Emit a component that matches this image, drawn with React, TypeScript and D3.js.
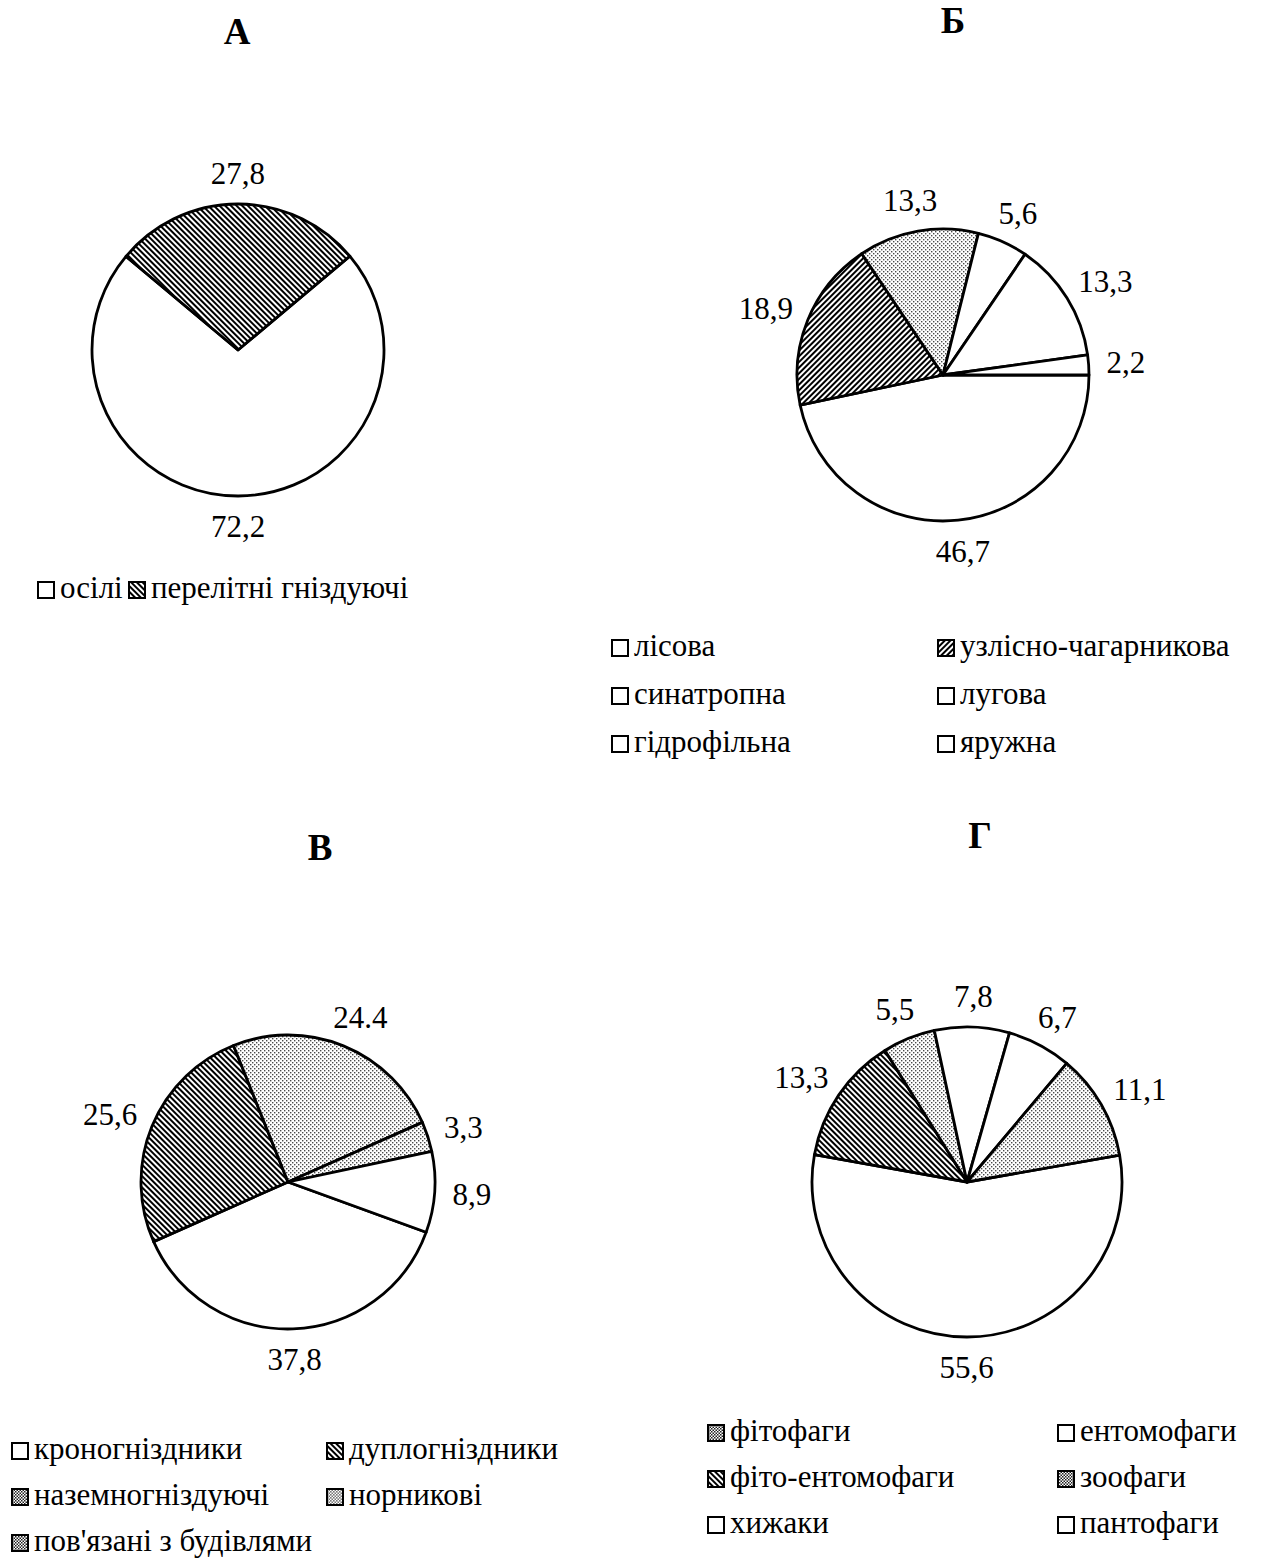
import { useRef, useEffect } from "react";
import * as d3 from "d3";

// А — за характером перебування
const aCategories = ["осілі", "перелітні гніздуючі"];
const aValues = [72.2, 27.8];
const aLabels = ["72,2", "27,8"];

// Б — за біотопною приуроченістю
const bCategories = ["лісова", "узлісно-чагарникова", "синатропна", "лугова", "гідрофільна", "яружна"];
const bValues = [46.7, 18.9, 13.3, 5.6, 13.3, 2.2];
const bLabels = ["46,7", "18,9", "13,3", "5,6", "13,3", "2,2"];

// В — за місцем гніздування
const vCategories = ["кроногніздники", "дуплогніздники", "наземногніздуючі", "норникові", "пов'язані з будівлями"];
const vValues = [37.8, 25.6, 24.4, 3.3, 8.9];
const vLabels = ["37,8", "25,6", "24.4", "3,3", "8,9"];

// Г — за типом живлення (порядок секторів)
const gCategories = ["ентомофаги", "фіто-ентомофаги", "зоофаги", "хижаки", "пантофаги", "фітофаги"];
const gValues = [55.6, 13.3, 5.5, 7.8, 6.7, 11.1];
const gLabels = ["55,6", "13,3", "5,5", "7,8", "6,7", "11,1"];
const gLegendOrder = ["фітофаги", "ентомофаги", "фіто-ентомофаги", "зоофаги", "хижаки", "пантофаги"];

const FONT = "'Liberation Serif', 'Times New Roman', serif";

interface PieSpec {
  title: string;
  tx: number;
  ty: number;
  cx: number;
  cy: number;
  r: number;
  start: number; // degrees, clockwise from 12 o'clock
  categories: string[];
  values: number[];
  labels: string[];
  fills: string[];
  legend: string[];
  legendFills: string[];
  legendCols: number[];
  legendY: number;
  legendDy: number;
}

const charts: PieSpec[] = [
  {
    title: "А", tx: 237, ty: 44, cx: 238, cy: 350, r: 146, start: 50,
    categories: aCategories, values: aValues, labels: aLabels,
    fills: ["#fff", "url(#back)"],
    legend: aCategories, legendFills: ["#fff", "url(#back)"],
    legendCols: [38, 129], legendY: 598, legendDy: 0,
  },
  {
    title: "Б", tx: 953, ty: 33, cx: 943, cy: 375, r: 146, start: 90,
    categories: bCategories, values: bValues, labels: bLabels,
    fills: ["#fff", "url(#fwd)", "url(#dots)", "#fff", "#fff", "#fff"],
    legend: bCategories, legendFills: ["#fff", "url(#fwd)", "#fff", "#fff", "#fff", "#fff"],
    legendCols: [612, 938], legendY: 656, legendDy: 48,
  },
  {
    title: "В", tx: 320, ty: 860, cx: 288, cy: 1182, r: 147, start: 110,
    categories: vCategories, values: vValues, labels: vLabels,
    fills: ["#fff", "url(#back)", "url(#dots)", "url(#dots)", "#fff"],
    legend: vCategories, legendFills: ["#fff", "url(#back)", "url(#check)", "url(#gray)", "url(#check)"],
    legendCols: [12, 327], legendY: 1459, legendDy: 46,
  },
  {
    title: "Г", tx: 980, ty: 848, cx: 967, cy: 1182, r: 155, start: 80,
    categories: gCategories, values: gValues, labels: gLabels,
    fills: ["#fff", "url(#back)", "url(#dots)", "#fff", "#fff", "url(#dots)"],
    legend: gLegendOrder, legendFills: ["url(#check)", "#fff", "url(#back)", "url(#check)", "#fff", "#fff"],
    legendCols: [708, 1058], legendY: 1441, legendDy: 46,
  },
];

export default function App() {
  const svgRef = useRef<SVGSVGElement>(null);

  useEffect(() => {
    if (!svgRef.current) return;
    const svg = d3.select(svgRef.current);
    svg.selectAll("*").remove();

    // Patterns
    const defs = svg.append("defs");
    const hatch = (id: string, angle: number) => {
      const p = defs
        .append("pattern")
        .attr("id", id)
        .attr("patternUnits", "userSpaceOnUse")
        .attr("width", 4)
        .attr("height", 4)
        .attr("patternTransform", `rotate(${angle})`);
      p.append("rect").attr("width", 4).attr("height", 4).attr("fill", "#fff");
      p.append("line")
        .attr("x1", 1).attr("x2", 1).attr("y1", 0).attr("y2", 4)
        .attr("stroke", "#000").attr("stroke-width", 2);
    };
    hatch("back", -45);
    hatch("fwd", 45);

    const dots = (id: string, size: number, step: number, color: string) => {
      const p = defs
        .append("pattern")
        .attr("id", id)
        .attr("patternUnits", "userSpaceOnUse")
        .attr("width", step)
        .attr("height", step);
      p.append("rect").attr("width", step).attr("height", step).attr("fill", "#fff");
      p.append("rect").attr("x", 0).attr("y", 0).attr("width", size).attr("height", size).attr("fill", color);
      p.append("rect").attr("x", step / 2).attr("y", step / 2).attr("width", size).attr("height", size).attr("fill", color);
    };
    dots("dots", 1.4, 4, "#4a4a4a");
    dots("gray", 1.6, 3, "#777");
    dots("check", 1.5, 3, "#222");

    charts.forEach((c) => {
      const g = svg.append("g");

      // Title
      g.append("text")
        .attr("x", c.tx)
        .attr("y", c.ty)
        .attr("text-anchor", "middle")
        .attr("font-family", FONT)
        .attr("font-weight", "bold")
        .attr("font-size", "37px")
        .text(c.title);

      const a0 = (c.start * Math.PI) / 180;
      const pie = d3
        .pie<number>()
        .sort(null)
        .startAngle(a0)
        .endAngle(a0 + 2 * Math.PI);
      const arcs = pie(c.values);
      const arc = d3.arc<d3.PieArcDatum<number>>().innerRadius(0).outerRadius(c.r);

      const pg = g.append("g").attr("transform", `translate(${c.cx},${c.cy})`);
      pg.selectAll("path")
        .data(arcs)
        .join("path")
        .attr("d", arc)
        .attr("fill", (_, i) => c.fills[i])
        .attr("stroke", "#000")
        .attr("stroke-width", 2.8)
        .attr("stroke-linejoin", "round");

      // Value labels, placed outside end
      const gap = 18;
      arcs.forEach((d, i) => {
        const mid = (d.startAngle + d.endAngle) / 2;
        const t = pg
          .append("text")
          .attr("font-family", FONT)
          .attr("font-size", "31px")
          .attr("text-anchor", "middle")
          .attr("dominant-baseline", "central")
          .text(c.labels[i]);
        const w = (t.node() as SVGTextElement).getComputedTextLength();
        const h = 26;
        const R = c.r + gap;
        const x = R * Math.sin(mid) + (w / 2) * Math.sin(mid);
        const y = -R * Math.cos(mid) - (h / 2) * Math.cos(mid);
        t.attr("x", x).attr("y", y);
      });

      // Legend
      const lg = g.append("g");
      c.legend.forEach((name, i) => {
        const col = i % 2;
        const row = Math.floor(i / 2);
        const x = c.legendCols[col];
        const y = c.legendY + row * c.legendDy;
        lg.append("rect")
          .attr("x", x)
          .attr("y", y - 16)
          .attr("width", 16)
          .attr("height", 16)
          .attr("fill", c.legendFills[i])
          .attr("stroke", "#000")
          .attr("stroke-width", 2);
        lg.append("text")
          .attr("x", x + 22)
          .attr("y", y)
          .attr("font-family", FONT)
          .attr("font-size", "31px")
          .text(name);
      });
    });
  }, []);

  return (
    <div style={{ position: "absolute", left: 0, top: 0, background: "#fff" }}>
      <svg ref={svgRef} width={1264} height={1562} style={{ display: "block" }} />
    </div>
  );
}
